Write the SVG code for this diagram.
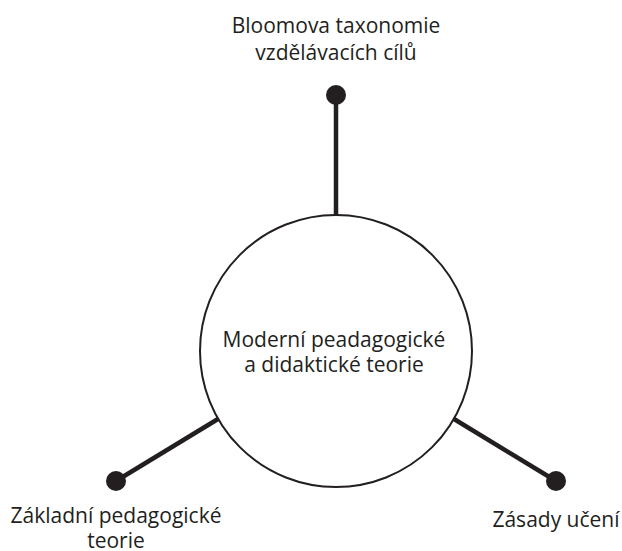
<svg xmlns="http://www.w3.org/2000/svg" width="622" height="551" viewBox="0 0 622 551">
  <style>
    .lbl { font-family: "Open Sans", "Noto Sans", sans-serif; font-size: 21px; fill: #231f20; text-anchor: middle; }
    .spoke { stroke: #231f20; stroke-width: 4.5; fill: none; }
    .dot { fill: #231f20; }
    .hub { fill: #ffffff; stroke: #231f20; stroke-width: 2; }
  </style>
  <rect width="622" height="551" fill="#ffffff"/>

  <!-- spokes from hub to leaf dots -->
  <g id="connectors">
    <line class="spoke" x1="336" y1="95" x2="336" y2="215"/>
    <line class="spoke" x1="116" y1="481" x2="218" y2="419"/>
    <line class="spoke" x1="556" y1="481" x2="454" y2="419"/>
  </g>

  <g id="hub">
    <circle class="hub" cx="336" cy="351" r="136"/>
    <text class="lbl" x="334" y="347">Moderní peadagogické</text>
    <text class="lbl" x="334" y="372">a didaktické teorie</text>
  </g>

  <g id="node-bloom">
    <circle class="dot" cx="336" cy="95" r="10"/>
    <text class="lbl" x="336" y="33">Bloomova taxonomie</text>
    <text class="lbl" x="336" y="60">vzdělávacích cílů</text>
  </g>

  <g id="node-zakladni">
    <circle class="dot" cx="116" cy="481" r="10"/>
    <text class="lbl" x="116" y="523">Základní pedagogické</text>
    <text class="lbl" x="116" y="548">teorie</text>
  </g>

  <g id="node-zasady">
    <circle class="dot" cx="556" cy="481" r="10"/>
    <text class="lbl" x="556" y="527">Zásady učení</text>
  </g>
</svg>
